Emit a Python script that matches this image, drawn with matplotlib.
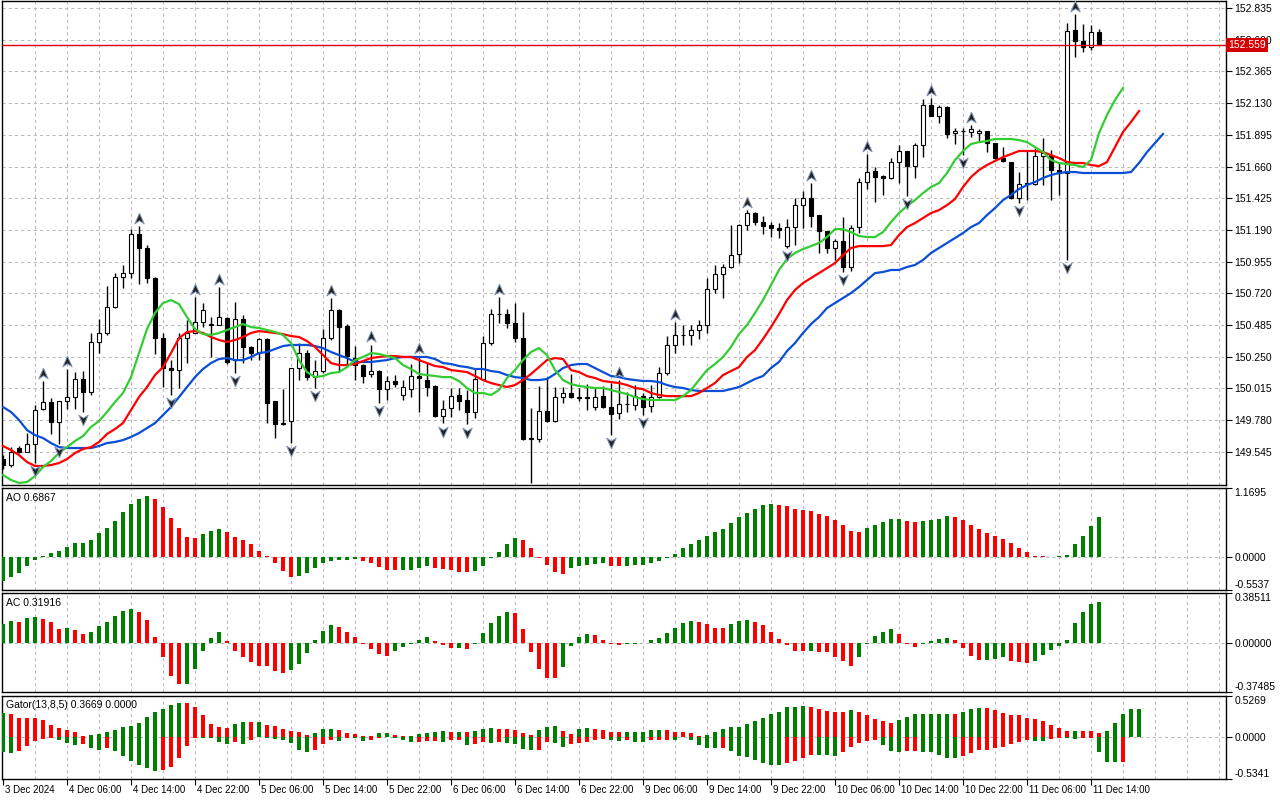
import matplotlib
matplotlib.use("Agg")
import matplotlib.pyplot as plt
import matplotlib.transforms as mtransforms
from matplotlib.path import Path

plt.rcParams["font.family"] = ["Liberation Sans", "DejaVu Sans"]

# ---- candles (H1 bars, index 0 = 3 Dec 22:00) ----
opens = [
    149.491, 149.447, 149.573, 149.543, 149.603, 149.862, 149.914, 149.766, 149.921, 149.951,  # 0
    150.085, 149.988, 150.359, 150.425, 150.617, 150.841, 150.870, 151.159, 151.056, 150.833,  # 10
    150.389, 150.166, 150.151, 150.389, 150.426, 150.507, 150.492, 150.485, 150.537, 150.225,  # 20
    150.529, 150.322, 150.277, 150.381, 149.921, 149.758, 149.773, 150.166, 150.277, 150.099,  # 30
    150.144, 150.389, 150.596, 150.477, 150.240, 150.188, 150.121, 150.144, 150.010, 150.070,  # 40
    149.966, 150.010, 150.107, 150.077, 150.033, 149.810, 149.870, 149.966, 149.929, 149.840,  # 50
    150.085, 150.351, 150.566, 150.566, 150.500, 150.389, 149.640, 149.640, 149.848, 149.773,  # 60
    149.951, 149.981, 149.951, 149.951, 149.877, 149.958, 149.877, 149.832, 149.899, 149.892,  # 70
    149.958, 149.884, 149.951, 150.129, 150.337, 150.411, 150.411, 150.448, 150.485, 150.752,  # 80
    150.863, 150.915, 151.011, 151.226, 151.315, 151.248, 151.226, 151.204, 151.070, 151.211,  # 90
    151.374, 151.426, 151.300, 151.182, 151.056, 151.108, 150.915, 151.211, 151.545, 151.626,  # 100
    151.589, 151.575, 151.693, 151.775, 151.663, 151.819, 152.116, 152.034, 152.101, 151.908,  # 110
    151.923, 151.915, 151.908, 151.923, 151.834, 151.723, 151.693, 151.426, 151.530, 151.530,  # 120
    151.738, 151.745, 151.634, 151.612, 152.672, 152.590, 152.546, 152.657,                    # 130
]
highs = [
    149.520, 149.580, 149.588, 149.684, 149.892, 150.070, 149.944, 149.921, 150.159, 150.136,
    150.144, 150.425, 150.529, 150.774, 150.870, 150.930, 151.196, 151.219, 151.078, 150.840,
    150.426, 150.225, 150.426, 150.522, 150.692, 150.648, 150.544, 150.766, 150.545, 150.655,
    150.559, 150.330, 150.389, 150.389, 149.921, 150.010, 150.166, 150.351, 150.300, 150.225,
    150.455, 150.685, 150.603, 150.492, 150.329, 150.195, 150.340, 150.150, 150.107, 150.114,
    150.077, 150.196, 150.255, 150.203, 150.040, 149.929, 150.018, 150.018, 150.003, 150.166,
    150.403, 150.603, 150.692, 150.603, 150.648, 150.581, 149.870, 150.033, 150.099, 150.025,
    150.025, 150.122, 150.018, 150.047, 150.018, 150.033, 150.055, 150.077, 149.988, 150.040,
    149.981, 150.040, 150.173, 150.403, 150.507, 150.485, 150.485, 150.522, 150.833, 150.930,
    150.937, 151.226, 151.234, 151.337, 151.323, 151.293, 151.248, 151.241, 151.270, 151.426,
    151.478, 151.537, 151.300, 151.182, 151.122, 151.286, 151.226, 151.575, 151.752, 151.656,
    151.597, 151.723, 151.819, 151.775, 151.834, 152.160, 152.168, 152.116, 152.108, 151.945,
    151.945, 151.967, 151.938, 151.923, 151.834, 151.805, 151.693, 151.619, 151.782, 151.797,
    151.871, 151.782, 151.686, 152.724, 152.790, 152.716, 152.709, 152.679,
]
lows = [
    149.420, 149.430, 149.536, 149.543, 149.462, 149.855, 149.677, 149.603, 149.862, 149.862,
    149.840, 149.966, 150.277, 150.410, 150.610, 150.759, 150.833, 150.789, 150.796, 150.270,
    150.025, 149.966, 150.018, 150.203, 150.426, 150.470, 150.248, 150.485, 150.196, 150.129,
    150.203, 150.225, 150.225, 149.758, 149.647, 149.744, 149.610, 150.077, 150.077, 150.018,
    150.129, 150.374, 150.136, 150.173, 150.077, 150.055, 150.099, 149.907, 149.929, 150.025,
    149.929, 149.951, 149.840, 149.959, 149.803, 149.758, 149.803, 149.855, 149.750, 149.795,
    150.077, 150.337, 150.500, 150.463, 150.359, 149.632, 149.313, 149.618, 149.766, 149.766,
    149.907, 149.944, 149.921, 149.855, 149.855, 149.870, 149.670, 149.788, 149.840, 149.855,
    149.818, 149.840, 149.944, 150.114, 150.277, 150.337, 150.337, 150.381, 150.425, 150.722,
    150.685, 150.908, 150.944, 151.189, 151.226, 151.159, 151.137, 151.130, 151.056, 151.078,
    151.204, 151.211, 151.019, 151.019, 150.967, 150.878, 150.885, 151.167, 151.493, 151.397,
    151.448, 151.567, 151.537, 151.441, 151.575, 151.730, 152.034, 151.982, 151.871, 151.827,
    151.745, 151.878, 151.849, 151.767, 151.715, 151.693, 151.419, 151.390, 151.411, 151.522,
    151.522, 151.411, 151.448, 150.967, 152.471, 152.508, 152.524, 152.559,
]
closes = [
    149.447, 149.543, 149.543, 149.603, 149.855, 149.914, 149.766, 149.921, 149.951, 150.085,
    149.988, 150.359, 150.425, 150.617, 150.841, 150.870, 151.159, 151.056, 150.833, 150.389,
    150.166, 150.151, 150.389, 150.426, 150.507, 150.596, 150.485, 150.544, 150.210, 150.529,
    150.322, 150.277, 150.381, 149.907, 149.751, 149.751, 150.166, 150.277, 150.099, 150.144,
    150.389, 150.596, 150.470, 150.255, 150.188, 150.107, 150.144, 150.010, 150.070, 150.047,
    150.025, 150.107, 150.092, 150.025, 149.810, 149.862, 149.958, 149.921, 149.840, 150.085,
    150.351, 150.566, 150.570, 150.500, 150.389, 149.640, 149.645, 149.848, 149.773, 149.951,
    149.981, 149.951, 149.944, 149.944, 149.951, 149.877, 149.825, 149.899, 149.903, 149.958,
    149.877, 149.951, 150.129, 150.337, 150.411, 150.413, 150.448, 150.485, 150.752, 150.863,
    150.915, 151.004, 151.226, 151.315, 151.248, 151.219, 151.204, 151.189, 151.211, 151.374,
    151.426, 151.293, 151.182, 151.056, 151.108, 150.915, 151.204, 151.545, 151.619, 151.582,
    151.575, 151.693, 151.775, 151.663, 151.819, 152.116, 152.034, 152.101, 151.901, 151.923,
    151.920, 151.938, 151.923, 151.834, 151.723, 151.700, 151.426, 151.530, 151.537, 151.738,
    151.760, 151.634, 151.612, 152.664, 152.590, 152.546, 152.657, 152.559,
]
current_price = 152.559

fractal_up = [5, 8, 17, 24, 27, 41, 46, 52, 62, 77, 84, 93, 101, 108, 116, 121, 134]
fractal_down = [4, 7, 10, 21, 29, 36, 39, 47, 55, 58, 66, 76, 80, 98, 105, 113, 120, 127, 133]

# ---- Alligator (values at displayed bar positions, incl. forward shift) ----
lips = [
    149.373, 149.336, 149.314, 149.321, 149.365, 149.432, 149.477, 149.536, 149.580, 149.625,
    149.662, 149.729, 149.773, 149.840, 149.914, 149.981, 150.099, 150.277, 150.455, 150.574,
    150.648, 150.670, 150.640, 150.544, 150.455, 150.418, 150.411, 150.426, 150.448, 150.470,
    150.492, 150.470, 150.463, 150.448, 150.433, 150.411, 150.351, 150.225, 150.136, 150.099,
    150.107, 150.129, 150.136, 150.173, 150.225, 150.248, 150.277, 150.270, 150.255, 150.240,
    150.188, 150.159, 150.122, 150.114, 150.107, 150.099, 150.099, 150.070, 150.018, 149.981,
    149.981, 149.966, 150.003, 150.092, 150.151, 150.225, 150.285, 150.314, 150.262, 150.151,
    150.077, 150.047, 150.033, 150.025, 150.018, 150.018, 150.003, 149.988, 149.973, 149.951,
    149.936, 149.929, 149.929, 149.929, 149.929, 149.958, 150.003, 150.077, 150.151, 150.196,
    150.248, 150.322, 150.418, 150.485, 150.574, 150.670, 150.781, 150.893, 150.974, 151.019,
    151.048, 151.070, 151.093, 151.137, 151.196, 151.196, 151.174, 151.145, 151.137, 151.137,
    151.174, 151.248, 151.315, 151.367, 151.411, 151.463, 151.508, 151.537, 151.612, 151.708,
    151.775, 151.827, 151.841, 151.849, 151.864, 151.864, 151.864, 151.856, 151.841, 151.804,
    151.767, 151.708, 151.686, 151.678, 151.671, 151.656, 151.708, 151.908, 152.042, 152.153,
    152.242,
]
teeth = [
    149.588, 149.558, 149.521, 149.469, 149.440, 149.440, 149.447, 149.462, 149.491, 149.536,
    149.566, 149.580, 149.618, 149.677, 149.714, 149.758, 149.855, 149.951, 150.025, 150.114,
    150.173, 150.277, 150.388, 150.433, 150.440, 150.426, 150.396, 150.374, 150.359, 150.374,
    150.396, 150.426, 150.440, 150.433, 150.426, 150.418, 150.403, 150.396, 150.366, 150.322,
    150.262, 150.203, 150.188, 150.188, 150.196, 150.218, 150.240, 150.248, 150.255, 150.255,
    150.248, 150.248, 150.225, 150.203, 150.181, 150.173, 150.151, 150.144, 150.136, 150.107,
    150.077, 150.055, 150.040, 150.025, 150.040, 150.077, 150.122, 150.173, 150.225, 150.240,
    150.233, 150.151, 150.136, 150.107, 150.092, 150.070, 150.062, 150.055, 150.040, 150.018,
    150.010, 149.981, 149.966, 149.958, 149.958, 149.958, 149.958, 149.981, 150.018, 150.055,
    150.114, 150.144, 150.173, 150.248, 150.299, 150.381, 150.470, 150.566, 150.670, 150.744,
    150.796, 150.833, 150.870, 150.907, 150.944, 151.004, 151.056, 151.070, 151.070, 151.070,
    151.070, 151.078, 151.152, 151.211, 151.241, 151.278, 151.315, 151.337, 151.374, 151.419,
    151.508, 151.582, 151.634, 151.671, 151.701, 151.730, 151.752, 151.775, 151.775, 151.775,
    151.767, 151.745, 151.723, 151.693, 151.686, 151.686, 151.671, 151.663, 151.693, 151.804,
    151.916, 151.990, 152.071,
]
jaw = [
    149.877, 149.840, 149.781, 149.706, 149.669, 149.647, 149.610, 149.580, 149.573, 149.573,
    149.573, 149.573, 149.588, 149.610, 149.618, 149.632, 149.655, 149.684, 149.721, 149.758,
    149.818, 149.877, 149.951, 150.025, 150.099, 150.159, 150.203, 150.233, 150.240, 150.225,
    150.225, 150.248, 150.277, 150.285, 150.307, 150.329, 150.337, 150.337, 150.337, 150.329,
    150.314, 150.285, 150.262, 150.240, 150.211, 150.211, 150.211, 150.218, 150.225, 150.240,
    150.248, 150.248, 150.248, 150.248, 150.233, 150.203, 150.196, 150.181, 150.173, 150.159,
    150.159, 150.144, 150.136, 150.114, 150.099, 150.092, 150.077, 150.077, 150.085, 150.122,
    150.166, 150.188, 150.196, 150.196, 150.166, 150.136, 150.107, 150.099, 150.085, 150.077,
    150.070, 150.070, 150.062, 150.040, 150.025, 150.018, 150.003, 149.996, 149.996, 149.996,
    149.996, 150.010, 150.025, 150.055, 150.085, 150.107, 150.166, 150.211, 150.292, 150.351,
    150.426, 150.492, 150.544, 150.611, 150.648, 150.685, 150.722, 150.767, 150.818, 150.870,
    150.878, 150.893, 150.893, 150.915, 150.930, 150.967, 151.019, 151.056, 151.093, 151.130,
    151.167, 151.211, 151.241, 151.300, 151.352, 151.411, 151.449, 151.493, 151.523, 151.545,
    151.575, 151.597, 151.612, 151.619, 151.619, 151.612, 151.612, 151.612, 151.612, 151.612,
    151.612, 151.619, 151.686, 151.767, 151.834, 151.901,
]

# ---- Awesome Oscillator ----
ao = [
    -0.396, -0.339, -0.271, -0.153, -0.040, 0.028, 0.079, 0.113, 0.181, 0.232,
    0.235, 0.299, 0.407, 0.492, 0.610, 0.763, 0.893, 0.977, 1.028, 0.977,
    0.848, 0.655, 0.492, 0.350, 0.333, 0.384, 0.441, 0.469, 0.418, 0.350,
    0.283, 0.215, 0.113, 0.028, -0.102, -0.226, -0.328, -0.322, -0.271, -0.181,
    -0.102, -0.062, -0.045, -0.040, -0.034, -0.057, -0.102, -0.158, -0.215, -0.220,
    -0.215, -0.212, -0.175, -0.141, -0.175, -0.198, -0.220, -0.243, -0.249, -0.232,
    -0.141, -0.011, 0.096, 0.215, 0.322, 0.299, 0.153, -0.011, -0.130, -0.254,
    -0.283, -0.181, -0.141, -0.124, -0.113, -0.096, -0.141, -0.145, -0.140, -0.135,
    -0.130, -0.096, -0.062, -0.011, 0.057, 0.153, 0.226, 0.299, 0.367, 0.418,
    0.469, 0.576, 0.678, 0.751, 0.819, 0.887, 0.893, 0.890, 0.859, 0.819,
    0.791, 0.774, 0.735, 0.689, 0.622, 0.537, 0.435, 0.432, 0.492, 0.537,
    0.593, 0.638, 0.650, 0.605, 0.593, 0.610, 0.633, 0.650, 0.689, 0.678,
    0.622, 0.548, 0.469, 0.412, 0.367, 0.311, 0.237, 0.153, 0.085, 0.028,
    0.017, 0.011, 0.017, 0.045, 0.215, 0.367, 0.525, 0.6867,
]

# ---- Accelerator Oscillator ----
ac = [
    0.144, 0.168, 0.163, 0.191, 0.199, 0.188, 0.163, 0.106, 0.114, 0.098,
    0.067, 0.085, 0.129, 0.163, 0.206, 0.245, 0.261, 0.237, 0.175, 0.044,
    -0.108, -0.255, -0.317, -0.315, -0.199, -0.062, 0.039, 0.085, 0.013, -0.062,
    -0.108, -0.147, -0.173, -0.174, -0.217, -0.232, -0.206, -0.160, -0.077, 0.021,
    0.093, 0.137, 0.121, 0.085, 0.044, -0.010, -0.044, -0.083, -0.095, -0.062,
    -0.031, -0.005, 0.028, 0.044, 0.015, -0.013, -0.039, -0.036, -0.046, -0.008,
    0.077, 0.155, 0.206, 0.240, 0.232, 0.111, -0.070, -0.199, -0.266, -0.271,
    -0.186, -0.023, 0.044, 0.067, 0.059, 0.028, -0.003, -0.013, -0.010, -0.005,
    0.005, 0.021, 0.039, 0.077, 0.116, 0.155, 0.168, 0.163, 0.150, 0.116,
    0.115, 0.144, 0.168, 0.175, 0.163, 0.137, 0.085, 0.034, -0.013, -0.057,
    -0.062, -0.057, -0.065, -0.070, -0.108, -0.134, -0.173, -0.108, -0.010, 0.052,
    0.085, 0.106, 0.067, -0.005, -0.031, -0.005, 0.013, 0.034, 0.041, 0.021,
    -0.039, -0.095, -0.132, -0.126, -0.124, -0.108, -0.134, -0.147, -0.155, -0.134,
    -0.090, -0.052, -0.023, 0.028, 0.155, 0.240, 0.297, 0.31916,
]

# ---- Gator Oscillator ----
gator_up = [
    0.311, 0.299, 0.249, 0.248, 0.247, 0.216, 0.162, 0.124, 0.091, 0.062,
    0.017, 0.029, 0.042, 0.071, 0.091, 0.133, 0.145, 0.187, 0.257, 0.320,
    0.361, 0.415, 0.436, 0.434, 0.382, 0.278, 0.174, 0.129, 0.118, 0.166,
    0.191, 0.190, 0.192, 0.154, 0.141, 0.100, 0.079, 0.066, 0.029, 0.050,
    0.100, 0.104, 0.091, 0.050, 0.037, 0.017, 0.015, 0.050, 0.052, 0.025,
    0.017, 0.018, 0.042, 0.058, 0.071, 0.079, 0.062, 0.063, 0.061, 0.075,
    0.100, 0.112, 0.100, 0.099, 0.091, 0.050, 0.029, 0.091, 0.133, 0.141,
    0.079, 0.035, 0.100, 0.120, 0.104, 0.091, 0.071, 0.066, 0.068, 0.071,
    0.072, 0.091, 0.092, 0.090, 0.066, 0.062, 0.058, 0.012, 0.025, 0.066,
    0.104, 0.129, 0.133, 0.170, 0.203, 0.249, 0.291, 0.328, 0.382, 0.390,
    0.394, 0.382, 0.361, 0.340, 0.328, 0.326, 0.349, 0.328, 0.286, 0.237,
    0.208, 0.187, 0.216, 0.257, 0.299, 0.300, 0.301, 0.302, 0.303, 0.300,
    0.328, 0.357, 0.378, 0.376, 0.349, 0.307, 0.286, 0.284, 0.249, 0.237,
    0.203, 0.154, 0.112, 0.079, 0.080, 0.078, 0.077, 0.050, 0.079, 0.187,
    0.299, 0.361, 0.3669,
]
gator_down = [
    -0.191, -0.199, -0.178, -0.116, -0.054, -0.021, -0.012, -0.033, -0.075, -0.104,
    -0.083, -0.137, -0.158, -0.137, -0.178, -0.241, -0.303, -0.357, -0.394, -0.427,
    -0.419, -0.378, -0.270, -0.116, -0.005, -0.010, -0.012, -0.066, -0.087, -0.066,
    -0.083, -0.041, -0.002, -0.012, -0.021, -0.033, -0.075, -0.166, -0.191, -0.166,
    -0.087, -0.041, -0.042, -0.012, -0.013, -0.054, -0.041, -0.012, -0.002, -0.012,
    -0.041, -0.066, -0.058, -0.054, -0.050, -0.055, -0.033, -0.030, -0.100, -0.083,
    -0.066, -0.068, -0.064, -0.070, -0.091, -0.149, -0.166, -0.158, -0.066, -0.075,
    -0.125, -0.083, -0.075, -0.062, -0.030, -0.025, -0.041, -0.042, -0.040, -0.066,
    -0.067, -0.041, -0.033, -0.032, -0.034, -0.002, -0.041, -0.104, -0.141, -0.142,
    -0.137, -0.178, -0.241, -0.257, -0.295, -0.324, -0.353, -0.355, -0.332, -0.303,
    -0.270, -0.228, -0.230, -0.232, -0.241, -0.187, -0.125, -0.075, -0.054, -0.041,
    -0.095, -0.178, -0.191, -0.178, -0.177, -0.187, -0.191, -0.228, -0.261, -0.270,
    -0.241, -0.199, -0.166, -0.158, -0.137, -0.125, -0.083, -0.066, -0.041, -0.042,
    -0.054, -0.025, -0.012, -0.013, -0.025, -0.012, -0.011, -0.187, -0.315, -0.316,
    -0.315,
]

# ---- axes scales and labels ----
price_ticks = [152.835, 152.600, 152.365, 152.130, 151.895, 151.660, 151.425, 151.190,
               150.955, 150.720, 150.485, 150.250, 150.015, 149.780, 149.545]
time_pos = list(range(0, 137, 8))
time_labels = ["3 Dec 2024", "4 Dec 06:00", "4 Dec 14:00", "4 Dec 22:00", "5 Dec 06:00",
               "5 Dec 14:00", "5 Dec 22:00", "6 Dec 06:00", "6 Dec 14:00", "6 Dec 22:00",
               "9 Dec 06:00", "9 Dec 14:00", "9 Dec 22:00", "10 Dec 06:00", "10 Dec 14:00",
               "10 Dec 22:00", "11 Dec 06:00", "11 Dec 14:00"]

GREEN = "#008000"
RED = "#ff0000"
HGRID = "#b4bcb4"
VGRID = "#c2b4c6"
FS = 7.5

W, H = 1280, 800
fig = plt.figure(figsize=(12.8, 8), dpi=100)


def panel(top, bottom):
    return fig.add_axes([2 / W, 1 - bottom / H, (1226 - 2) / W, (bottom - top) / H])


ax = panel(1, 485)
ax_ao = panel(488, 590)
ax_ac = panel(593, 692)
ax_gt = panel(696, 779)
axes = [ax, ax_ao, ax_ac, ax_gt]

xmin, xmax = -0.125, 152.875
for a in axes:
    a.set_xlim(xmin, xmax)
    for s in a.spines.values():
        s.set_color("black")
        s.set_linewidth(1)
    a.yaxis.tick_right()
    a.tick_params(axis="y", direction="out", length=4, width=0.8, pad=2,
                  labelsize=FS, colors="black")
    a.tick_params(axis="x", bottom=False, labelbottom=False)
    for xv in range(4, 153, 4):
        a.axvline(xv, color=VGRID, lw=0.75, ls=(0, (3, 3)), zorder=0)

# ---- main chart ----
ax.set_ylim(149.299, 152.887)
ax.set_yticks(price_ticks)
ax.set_yticklabels([f"{p:.3f}" for p in price_ticks])
for p in price_ticks:
    ax.axhline(p, color=HGRID, lw=0.75, ls=(0, (3, 3)), zorder=0)

n = len(closes)
xs = list(range(n))
ax.vlines(xs, lows, highs, color="black", lw=1, zorder=3)
for i in xs:
    o, c = opens[i], closes[i]
    body = max(abs(c - o), 0.003)
    bull = c >= o
    ax.bar(i, body, bottom=min(o, c), width=0.6,
           facecolor="white" if bull else "black", edgecolor="black",
           lw=0.8, zorder=4)

ax.plot(range(len(jaw)), jaw, color="#0a4ed6", lw=1.6, zorder=5)
ax.plot(range(len(teeth)), teeth, color="#ff0000", lw=1.6, zorder=5)
ax.plot(range(len(lips)), lips, color="#33cc33", lw=1.6, zorder=5)

up_arrow = Path([(0, 1), (0.75, -0.7), (0, -0.2), (-0.75, -0.7), (0, 1)],
                [Path.MOVETO, Path.LINETO, Path.LINETO, Path.LINETO, Path.CLOSEPOLY])
down_arrow = Path([(0, -1), (0.75, 0.7), (0, 0.2), (-0.75, 0.7), (0, -1)],
                  [Path.MOVETO, Path.LINETO, Path.LINETO, Path.LINETO, Path.CLOSEPOLY])
ax.plot(fractal_up, [highs[i] + 0.055 for i in fractal_up], ls="none",
        marker=up_arrow, ms=9, mfc="#222222", mec="#8296bb", mew=0.7, zorder=6)
ax.plot(fractal_down, [lows[i] - 0.055 for i in fractal_down], ls="none",
        marker=down_arrow, ms=9, mfc="#222222", mec="#8296bb", mew=0.7, zorder=6)

ax.axhline(current_price, color="#e00000", lw=1, zorder=6)
ax.text(1.002, current_price, f"{current_price:.3f}",
        transform=mtransforms.blended_transform_factory(ax.transAxes, ax.transData),
        ha="left", va="center", fontsize=FS, color="white", clip_on=False, zorder=10,
        bbox=dict(boxstyle="square,pad=0.2", facecolor="#d40000", edgecolor="none"))


def bar_colors(vals):
    cols = [GREEN]
    for k in range(1, len(vals)):
        cols.append(GREEN if vals[k] > vals[k - 1] else RED)
    return cols


def abs_colors(vals):
    cols = [GREEN]
    for k in range(1, len(vals)):
        cols.append(GREEN if abs(vals[k]) > abs(vals[k - 1]) else RED)
    return cols


def osc_panel(a, vals, lo, hi, fmt, title):
    a.set_ylim(lo, hi)
    a.axhline(0, color=HGRID, lw=0.75, ls=(0, (3, 3)), zorder=0)
    a.bar(range(len(vals)), vals, width=0.55, color=bar_colors(vals), zorder=3)
    a.set_yticks([lo, 0, hi])
    a.set_yticklabels([fmt.format(lo), fmt.format(0), fmt.format(hi)])
    labels = a.get_yticklabels()
    labels[0].set_va("bottom")
    labels[2].set_va("top")
    a.text(0.003, 0.95, title, transform=a.transAxes, ha="left", va="top", fontsize=FS)


osc_panel(ax_ao, ao, -0.5537, 1.1695, "{:.4f}", f"AO {ao[-1]:.4f}")
osc_panel(ax_ac, ac, -0.37485, 0.38511, "{:.5f}", f"AC {ac[-1]:.5f}")

# gator
ax_gt.set_ylim(-0.5341, 0.5269)
ax_gt.axhline(0, color=HGRID, lw=0.75, ls=(0, (3, 3)), zorder=0)
ax_gt.bar(range(len(gator_up)), gator_up, width=0.55, color=abs_colors(gator_up), zorder=3)
ax_gt.bar(range(len(gator_down)), gator_down, width=0.55, color=abs_colors(gator_down), zorder=3)
ax_gt.set_yticks([-0.5341, 0, 0.5269])
ax_gt.set_yticklabels(["-0.5341", "0.0000", "0.5269"])
gl = ax_gt.get_yticklabels()
gl[0].set_va("bottom")
gl[2].set_va("top")
ax_gt.text(0.003, 0.95, f"Gator(13,8,5) {gator_up[-1]:.4f} 0.0000", transform=ax_gt.transAxes,
           ha="left", va="top", fontsize=FS)

ax_gt.set_xticks(time_pos)
ax_gt.tick_params(axis="x", bottom=True, direction="out", length=4, width=0.8, labelbottom=False)
tr = mtransforms.blended_transform_factory(ax_gt.transData, ax_gt.transAxes)
for xp, lab in zip(time_pos, time_labels):
    ax_gt.text(xp + 0.25, -0.07, lab, transform=tr, ha="left", va="top",
               fontsize=7, clip_on=False)

fig.savefig("out.png", dpi=100, facecolor="white")
